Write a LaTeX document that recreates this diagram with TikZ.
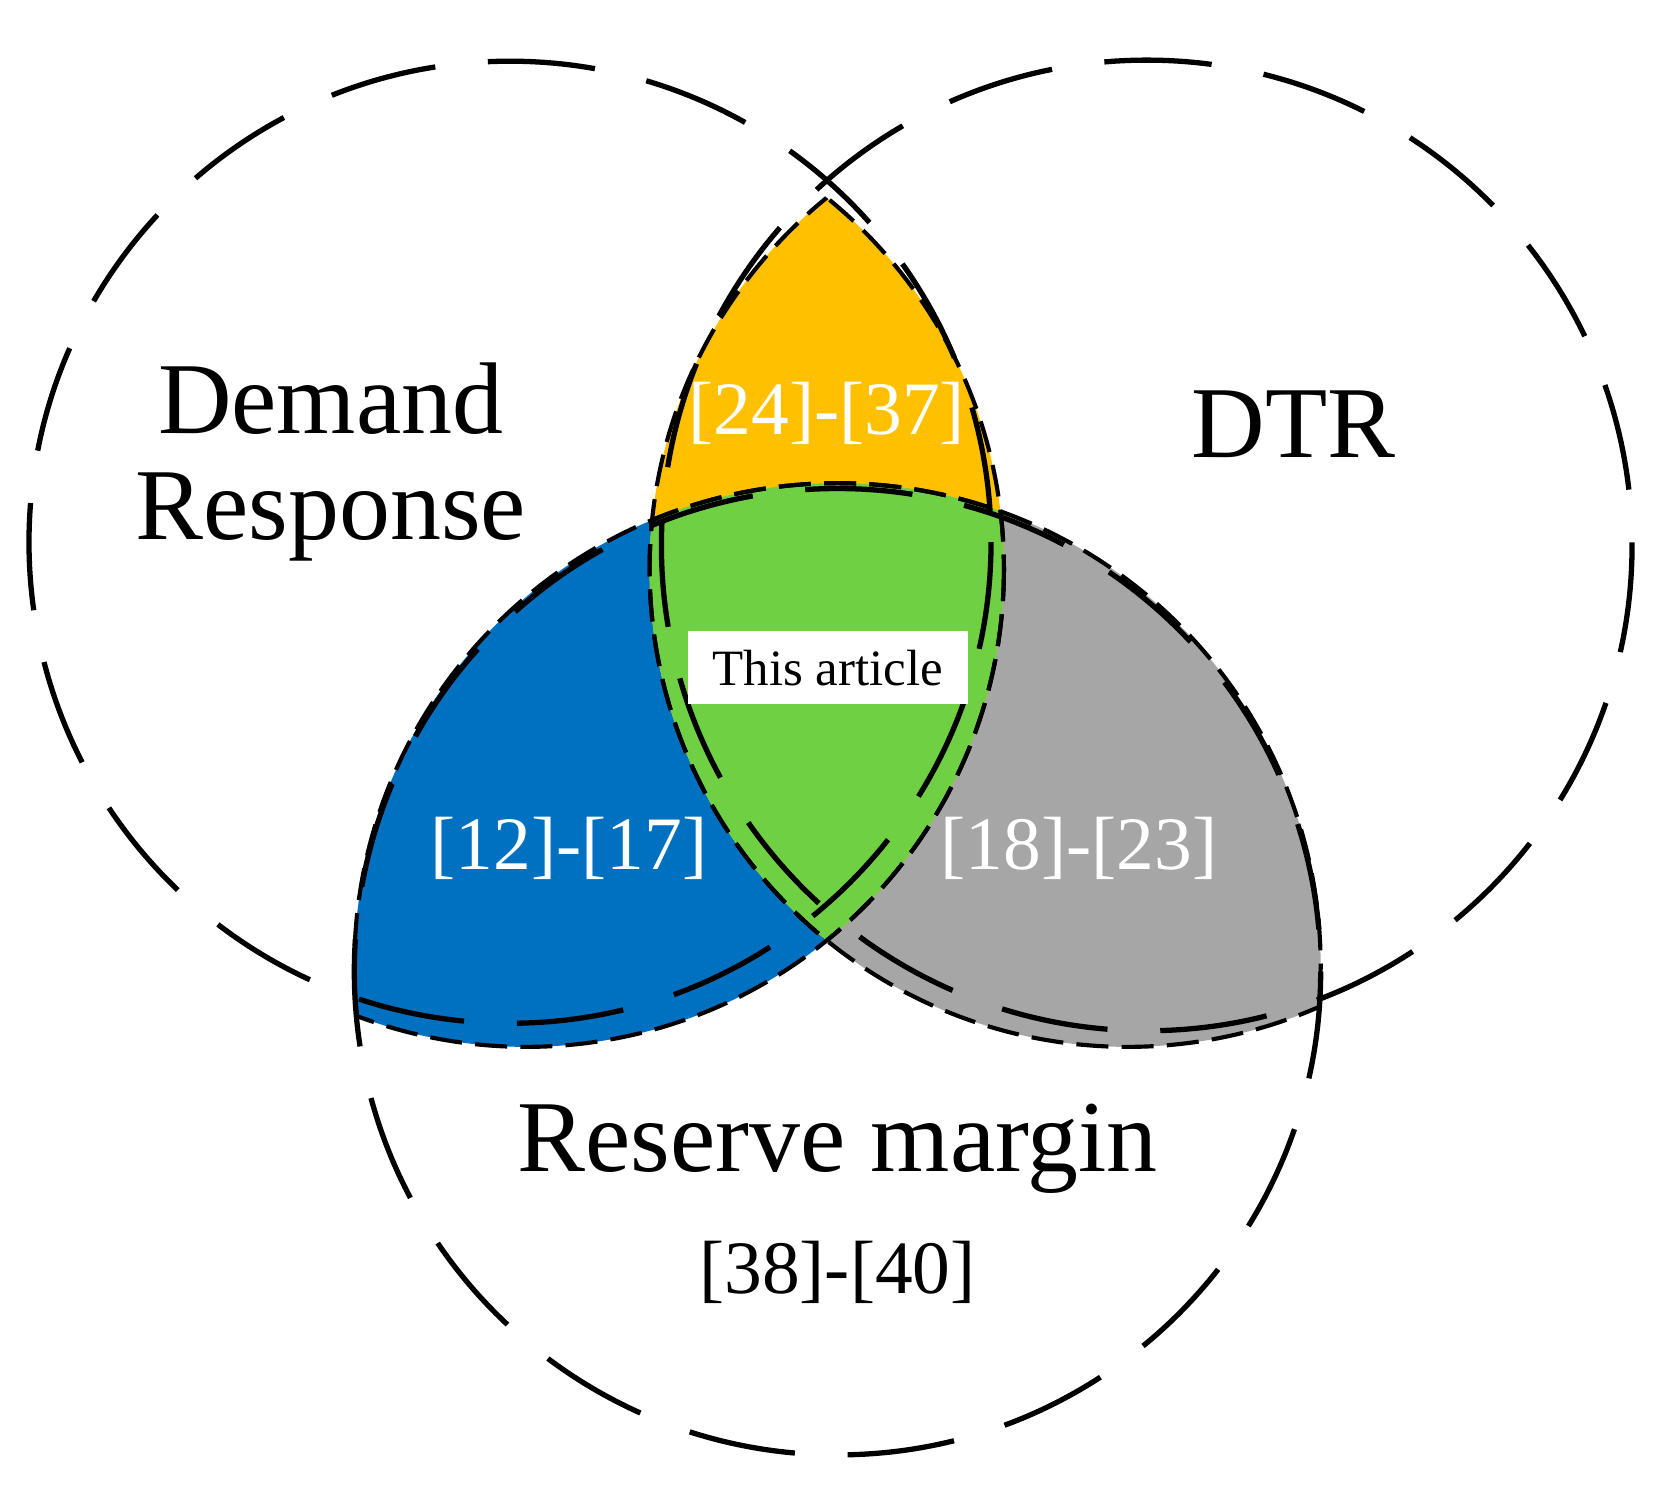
\documentclass[tikz,border=0pt]{standalone}
\usepackage{fontspec}
\setmainfont{Liberation Serif}
\begin{document}
\begin{tikzpicture}[x=0.02cm,y=-0.02cm,
  outer/.style={line width=2.8pt,dash pattern=on 57pt off 28pt},
  inner/.style={line width=2.2pt,dash pattern=on 17pt off 7pt},
  big/.style={font=\fontsize{54}{60}\selectfont,align=center},
  ref/.style={font=\fontsize{40}{44}\selectfont,text=white}]
\useasboundingbox (0,0) rectangle (1560,1388);
\def\Lp{(490,530) circle (445)}
\def\Rp{(1050,530) circle (445)}
\def\Bp{(780,900) circle (450)}
\definecolor{cblue}{HTML}{0070C0}
\definecolor{cgray}{HTML}{A6A6A6}
\definecolor{cyel}{HTML}{FFC000}
\definecolor{cgreen}{HTML}{6FD043}
\begin{scope}\clip\Lp; \fill[cblue]\Bp; \end{scope}
\begin{scope}\clip\Rp; \fill[cgray]\Bp; \end{scope}
\begin{scope}\clip\Lp; \fill[cyel]\Rp; \end{scope}
\begin{scope}\clip\Lp; \clip\Rp; \fill[cgreen]\Bp; \end{scope}
\begin{scope}\clip\Rp; \draw[inner]\Lp; \end{scope}
\begin{scope}\clip\Bp; \draw[inner]\Lp; \end{scope}
\begin{scope}\clip\Lp; \draw[inner]\Rp; \end{scope}
\begin{scope}\clip\Bp; \draw[inner]\Rp; \end{scope}
\begin{scope}\clip\Lp; \draw[inner]\Bp; \end{scope}
\begin{scope}\clip\Rp; \draw[inner]\Bp; \end{scope}
\draw[outer] (475,505) circle (448);
\draw[outer] (1068,508) circle (452);
\draw[outer] (780,905) circle (450);
\node[big] (dr) at (308,430) {Demand\\[-4pt]Response};
\node[big] (dtr) at (1205,395) {DTR};
\node[big] (rm) at (780,1070) {Reserve margin};
\node[font=\fontsize{40}{44}\selectfont] (r38) at (780,1185) {[38]-[40]};
\node[ref] (r24) at (770,385) {[24]-[37]};
\node[ref] (r12) at (530,790) {[12]-[17]};
\node[ref] (r18) at (1005,790) {[18]-[23]};
\node[fill=white,font=\fontsize{27}{30}\selectfont,inner sep=2pt,minimum width=262*0.567pt,minimum height=68*0.567pt] (ta) at (771,622) {This article};
\end{tikzpicture}
\end{document}
